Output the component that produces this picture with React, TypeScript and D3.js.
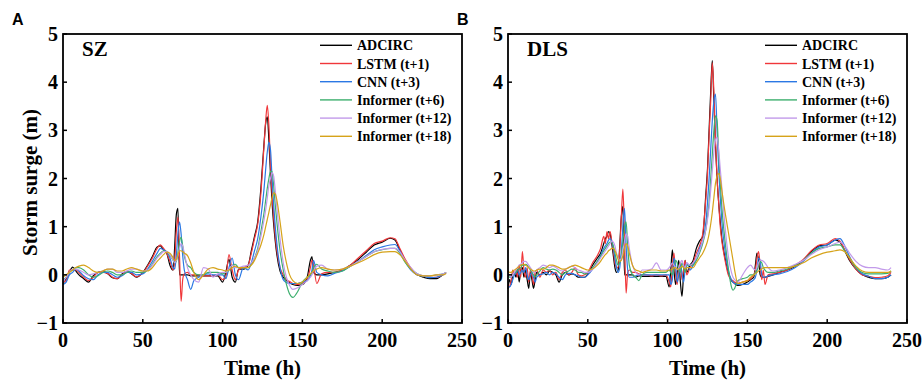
import React from 'react';
import * as d3 from 'd3';

// time axis (h) for each station
const tSZ = [
  0, 2, 4, 6, 8, 10, 13, 16, 19, 22, 25, 28, 31, 34, 37, 40,
  43, 46, 50, 53, 56, 59, 61, 63, 65, 67, 69, 70, 71, 72, 73, 74, 75, 76,
  78, 80, 82, 85, 88, 91, 94, 97, 100, 102, 104, 106, 108, 110, 113, 116, 118, 120, 122, 124, 126,
  127, 128, 129, 130, 131, 132, 133, 134, 136, 138, 140, 142, 144, 147, 150, 153, 155, 156, 157, 159, 162, 166, 170,
  175, 180, 185, 190, 195, 200, 205, 208, 211, 214, 218, 222, 226, 230, 234, 238, 240,
];

const szAdcirc = [
  -0.18, -0.08, 0.05, 0.16, 0.08, 0, -0.08, -0.15, -0.02, 0.05, 0.07, 0.02, -0.06, -0.08, 0.02, 0.07,
  0.02, -0.05, 0.05, 0.2, 0.38, 0.58, 0.6, 0.52, 0.45, 0.2, 0.1, 0.6, 1.25, 1.38, 0, 0, 0, 0,
  0, -0.02, -0.02, -0.02, -0.02, -0.02, -0.02, -0.02, -0.15, 0.05, 0.32, -0.05, -0.15, 0.12, 0.12, 0.2, 0.5, 0.8, 1.1, 1.8, 2.75,
  3.15, 3.28, 2.8, 2.1, 1.5, 1.05, 0.7, 0.42, 0.08, -0.05, -0.12, -0.17, -0.2, -0.22, -0.2, -0.05, 0.3, 0.38, 0.05, 0, 0, 0.02, 0.05,
  0.1, 0.2, 0.32, 0.47, 0.62, 0.68, 0.76, 0.72, 0.52, 0.32, 0.12, 0, -0.05, -0.08, -0.08, 0, 0.05,
];
const szLstm = [
  -0.15, -0.12, 0.1, 0.1, 0.1, 0.05, -0.05, -0.12, -0.05, 0.05, 0.05, 0.03, -0.05, -0.08, 0, 0.06,
  0.03, -0.04, 0.04, 0.18, 0.35, 0.55, 0.62, 0.55, 0.45, 0.28, 0.1, 0.3, 0.9, 1.2, 0.4, -0.55, -0.1, 0.02,
  0.05, 0, 0, 0, -0.02, -0.02, -0.02, 0, -0.1, -0.05, 0.42, 0.1, -0.1, 0.1, 0.15, 0.2, 0.45, 0.75, 1.05, 1.7, 2.7,
  3.2, 3.52, 3.1, 2.3, 1.7, 1.2, 0.8, 0.5, 0.15, 0, -0.1, -0.14, -0.18, -0.2, -0.18, -0.1, 0.15, 0.3, 0.2, -0.18, 0.02, 0.05, 0.05,
  0.1, 0.2, 0.35, 0.5, 0.65, 0.7, 0.77, 0.75, 0.55, 0.35, 0.14, 0, -0.02, -0.05, -0.05, 0, 0.05,
];
const szCnn = [
  -0.2, -0.15, 0, 0.05, 0.12, 0.08, -0.02, -0.08, -0.1, 0, 0.05, 0.05, 0, -0.05, -0.02, 0.05,
  0.05, 0, 0.02, 0.12, 0.28, 0.45, 0.55, 0.52, 0.48, 0.35, 0.15, 0.12, 0.4, 0.85, 1.1, 0.85, 0.4, 0.1,
  -0.1, -0.3, -0.12, -0.05, 0, 0.02, 0, 0, 0, -0.08, 0.15, 0.35, 0, -0.1, 0.15, 0.1, 0.25, 0.5, 0.75, 1.2, 1.8,
  2.2, 2.55, 2.75, 2.6, 2.0, 1.45, 1.0, 0.65, 0.15, -0.1, -0.16, -0.18, -0.18, -0.18, -0.15, -0.12, -0.02, 0.1, 0.3, 0.05, 0, -0.02, 0.03,
  0.08, 0.18, 0.28, 0.4, 0.52, 0.58, 0.62, 0.63, 0.5, 0.3, 0.1, 0, -0.03, -0.06, -0.05, 0, 0.04,
];
const szInf6 = [
  -0.1, -0.05, 0.05, 0.1, 0.15, 0.15, 0.1, 0, -0.05, -0.02, 0.05, 0.08, 0.05, 0, 0, 0.05,
  0.08, 0.05, 0.05, 0.1, 0.22, 0.38, 0.45, 0.5, 0.48, 0.4, 0.3, 0.25, 0.28, 0.45, 0.68, 0.78, 0.6, 0.4,
  0.2, 0.15, 0.05, 0, 0, 0.05, 0.05, 0.05, 0.02, 0.05, 0.1, 0.2, 0.22, 0.15, 0.15, 0.15, 0.22, 0.35, 0.55, 0.9, 1.3,
  1.55, 1.8, 2.0, 2.15, 2.15, 1.85, 1.45, 1.1, 0.5, 0.1, -0.2, -0.4, -0.47, -0.35, -0.15, -0.05, 0, 0.05, 0.15, 0.22, 0.12, 0.08, 0.05,
  0.08, 0.18, 0.28, 0.38, 0.48, 0.52, 0.55, 0.55, 0.45, 0.28, 0.12, 0.02, -0.02, -0.02, 0, 0.02, 0.05,
];
const szInf12 = [
  -0.15, -0.05, 0.05, 0.12, 0.12, 0.1, 0.05, 0, 0.02, 0.05, 0.08, 0.12, 0.12, 0.05, 0.05, 0.08,
  0.12, 0.12, 0.08, 0.1, 0.2, 0.35, 0.42, 0.48, 0.48, 0.42, 0.3, 0.25, 0.3, 0.4, 0.55, 0.65, 0.6, 0.45,
  0.15, 0, -0.1, -0.15, 0.15, 0.12, -0.05, 0.02, 0.05, 0.05, 0.12, 0.2, 0.15, 0.15, 0.18, 0.2, 0.25, 0.35, 0.5, 0.8, 1.15,
  1.35, 1.6, 1.85, 2.0, 2.12, 2.05, 1.75, 1.4, 0.75, 0.25, -0.05, -0.22, -0.3, -0.27, -0.2, -0.12, -0.05, 0, 0.08, 0.18, 0.2, 0.12, 0.1,
  0.12, 0.18, 0.28, 0.38, 0.48, 0.53, 0.55, 0.55, 0.48, 0.32, 0.15, 0.02, -0.02, -0.02, 0, 0.02, 0.05,
];
const szInf18 = [
  -0.05, 0, 0.05, 0.1, 0.15, 0.18, 0.2, 0.15, 0.08, 0.05, 0.08, 0.12, 0.12, 0.08, 0.08, 0.12,
  0.15, 0.12, 0.08, 0.08, 0.15, 0.28, 0.35, 0.42, 0.47, 0.45, 0.35, 0.3, 0.32, 0.42, 0.5, 0.5, 0.48, 0.45,
  0.4, 0.25, 0.05, -0.1, 0, 0.12, 0.15, 0.12, 0.1, 0.08, 0.1, 0.15, 0.18, 0.15, 0.15, 0.15, 0.2, 0.3, 0.45, 0.62, 0.85,
  1.0, 1.15, 1.3, 1.45, 1.6, 1.7, 1.68, 1.55, 1.1, 0.6, 0.25, 0, -0.12, -0.18, -0.15, -0.05, 0.02, 0.05, 0.08, 0.12, 0.15, 0.12, 0.1,
  0.12, 0.18, 0.25, 0.33, 0.42, 0.47, 0.48, 0.48, 0.42, 0.3, 0.12, 0, -0.02, -0.02, 0, 0, 0.03,
];

const tDLS = [
  0, 1, 2, 3, 4, 5, 6, 7, 8, 9, 10, 11, 12, 13, 14, 15, 16, 17, 18, 20,
  22, 24, 26, 28, 30, 32, 34, 36, 38, 40, 42, 44, 46, 48, 50, 53, 56, 58, 60, 61,
  62, 63, 64, 65, 66, 67, 68, 69, 70, 71, 72, 73, 74, 75, 76, 78, 80, 82, 84, 87,
  90, 93, 96, 99, 101, 102, 103, 104, 105, 106, 107, 108, 109, 110, 111, 112, 114, 116, 118, 120,
  122, 124, 125, 126, 127, 128, 129, 130, 131, 132, 133, 134, 136, 138, 140, 141, 142, 144, 147, 150,
  152, 154, 155, 156, 157, 158, 159, 160, 161, 163, 166, 170, 175, 180, 185, 190, 195, 200, 205, 208,
  211, 214, 218, 222, 226, 230, 234, 238, 240,
];

const dlsAdcirc = [
  -0.3, -0.1, -0.2, 0, 0.05, -0.05, 0.12, -0.15, 0.1, 0.15, -0.05, 0.1, -0.1, -0.28, 0.05, -0.1, -0.28, -0.1, 0.05, 0,
  0.05, 0, 0.08, 0.05, 0, -0.15, 0, 0.05, 0, 0.02, 0, -0.05, -0.05, -0.05, 0.02, 0.2, 0.35, 0.45, 0.65, 0.75,
  0.8, 0.9, 0.85, 0.65, 0.4, 0.15, 0.05, 0.1, 0.6, 1.2, 1.42, 0, 0, 0, 0, 0, -0.05, -0.02, -0.03, -0.03,
  -0.03, -0.03, -0.03, -0.03, -0.25, 0.1, 0.52, 0.1, -0.2, 0.05, 0.3, -0.15, -0.45, 0, 0.3, 0.05, 0.2, 0.3, 0.55, 0.7,
  0.8, 1.7, 2.2, 3.0, 3.8, 4.45, 3.6, 2.7, 2.0, 1.5, 1.1, 0.75, 0.35, 0.05, -0.12, -0.15, -0.18, -0.22, -0.2, -0.15,
  -0.1, -0.05, 0.2, 0.45, 0.3, 0, -0.05, -0.05, -0.05, -0.03, 0, 0.05, 0.1, 0.18, 0.3, 0.48, 0.6, 0.62, 0.72, 0.68,
  0.5, 0.3, 0.12, 0, -0.05, -0.08, -0.08, -0.05, 0,
];
const dlsLstm = [
  -0.2, -0.25, -0.1, 0.1, 0, 0.1, -0.05, 0.2, -0.05, 0.48, 0.1, -0.05, 0.15, -0.15, 0.1, 0, -0.2, 0.05, 0.1, -0.05,
  0.1, 0.05, 0.1, 0, 0.05, -0.1, 0.05, 0.1, 0, 0.05, 0.15, 0, -0.02, 0, 0.05, 0.25, 0.4, 0.55, 0.8, 0.65,
  0.9, 0.75, 0.9, 0.7, 0.5, 0.25, 0.15, 0.15, 0.5, 1.2, 1.78, 0.8, -0.38, 0.05, 0.1, 0.05, 0.05, 0.02, 0, 0,
  -0.02, 0, -0.02, 0, -0.15, -0.25, 0.2, 0.45, 0, -0.2, 0.15, 0.25, -0.1, 0.1, 0.3, 0, 0.15, 0.25, 0.45, 0.6,
  0.85, 1.6, 2.1, 2.9, 3.6, 4.4, 3.8, 2.8, 2.0, 1.5, 1.0, 0.7, 0.3, 0, -0.1, -0.12, -0.15, -0.18, -0.15, -0.12,
  -0.08, 0, 0.1, 0.35, 0.48, 0.2, -0.1, 0.1, -0.2, 0, 0.02, 0.05, 0.1, 0.2, 0.32, 0.5, 0.62, 0.65, 0.75, 0.7,
  0.52, 0.32, 0.12, 0, -0.03, -0.06, -0.05, -0.02, 0.05,
];
const dlsCnn = [
  -0.25, -0.25, -0.2, -0.1, 0, 0.05, 0.1, 0, 0.05, 0.1, 0.05, 0.15, 0, -0.1, 0, 0.05, -0.05, -0.15, -0.05, 0,
  0.02, 0.05, 0, 0.05, 0.02, -0.05, -0.1, 0, 0.03, 0.03, 0, -0.02, -0.05, -0.05, 0, 0.12, 0.28, 0.4, 0.55, 0.6,
  0.65, 0.72, 0.75, 0.7, 0.55, 0.35, 0.15, 0.05, 0.15, 0.5, 1.0, 1.38, 0.6, 0.1, -0.05, -0.05, -0.02, 0, 0, 0,
  0, 0, 0, 0, 0, -0.2, -0.1, 0.35, 0.2, -0.15, 0, 0.2, 0.05, -0.15, 0.1, 0.25, 0.1, 0.2, 0.35, 0.55,
  0.7, 1.1, 1.5, 2.0, 2.6, 3.2, 3.6, 3.75, 3.0, 2.2, 1.6, 1.1, 0.5, 0.1, -0.1, -0.15, -0.18, -0.2, -0.2, -0.2,
  -0.15, -0.1, -0.05, 0.1, 0.35, 0.3, 0, -0.05, -0.05, -0.02, 0, 0.02, 0.07, 0.15, 0.28, 0.45, 0.58, 0.62, 0.72, 0.75,
  0.6, 0.38, 0.15, 0.02, -0.03, -0.08, -0.08, -0.05, 0,
];
const dlsInf6 = [
  0, -0.05, -0.05, 0, 0.05, 0.05, 0.1, 0.12, 0.15, 0.2, 0.2, 0.22, 0.2, 0.15, 0.1, 0.05, 0, -0.05, 0, 0.08,
  0.15, 0.12, 0.1, 0.12, 0.1, 0.05, 0, 0.05, 0.08, 0.12, 0.1, 0.05, 0.05, 0.02, 0.05, 0.15, 0.28, 0.38, 0.5, 0.55,
  0.6, 0.65, 0.68, 0.68, 0.6, 0.45, 0.3, 0.2, 0.25, 0.4, 0.7, 1.0, 1.1, 0.6, 0.2, 0, -0.05, -0.12, 0, 0.05,
  0.05, 0.05, 0.05, 0.05, 0.1, 0.05, 0, 0.15, 0.3, 0.25, 0.1, 0.05, 0.25, 0.15, 0.05, 0.2, 0.2, 0.2, 0.3, 0.45,
  0.65, 0.95, 1.2, 1.5, 2.0, 2.5, 3.0, 3.3, 3.2, 2.5, 1.9, 1.4, 0.7, 0.15, -0.25, -0.32, -0.28, -0.12, -0.08, -0.05,
  0, 0, 0.05, 0.1, 0.2, 0.28, 0.25, 0.15, 0.1, 0.05, 0.05, 0.08, 0.12, 0.2, 0.3, 0.45, 0.55, 0.58, 0.62, 0.62,
  0.5, 0.35, 0.15, 0.05, 0.02, 0.02, 0.02, 0.03, 0.08,
];
const dlsInf12 = [
  0, 0, -0.05, 0, 0.05, 0.1, 0.15, 0.2, 0.22, 0.25, 0.28, 0.28, 0.25, 0.2, 0.15, 0.1, 0.05, 0.05, 0.1, 0.15,
  0.2, 0.18, 0.15, 0.18, 0.15, 0.1, 0.08, 0.12, 0.15, 0.18, 0.15, 0.1, 0.08, 0.05, 0.05, 0.12, 0.25, 0.35, 0.45, 0.5,
  0.55, 0.6, 0.65, 0.7, 0.68, 0.6, 0.45, 0.35, 0.3, 0.35, 0.5, 0.7, 0.85, 0.8, 0.55, 0.2, 0.05, 0, 0.1, 0.1,
  0.12, 0.25, 0.1, 0.1, 0.15, 0.2, 0.25, 0.2, 0.15, 0.1, 0.15, 0.25, 0.3, 0.2, 0.15, 0.25, 0.2, 0.25, 0.35, 0.5,
  0.7, 0.95, 1.15, 1.4, 1.75, 2.15, 2.55, 2.8, 2.86, 2.6, 2.2, 1.8, 1.0, 0.4, 0.05, -0.05, -0.1, -0.15, 0, 0.15,
  0.2, 0.12, 0.1, 0.15, 0.25, 0.3, 0.3, 0.28, 0.25, 0.15, 0.08, 0.1, 0.15, 0.22, 0.3, 0.42, 0.52, 0.58, 0.65, 0.68,
  0.6, 0.45, 0.28, 0.18, 0.15, 0.15, 0.12, 0.1, 0.15,
];
const dlsInf18 = [
  0.08, 0.05, 0.05, 0.08, 0.1, 0.12, 0.15, 0.18, 0.2, 0.22, 0.22, 0.2, 0.18, 0.15, 0.12, 0.1, 0.08, 0.08, 0.1, 0.12,
  0.12, 0.15, 0.2, 0.2, 0.18, 0.15, 0.12, 0.12, 0.15, 0.18, 0.2, 0.18, 0.15, 0.12, 0.1, 0.12, 0.2, 0.28, 0.38, 0.42,
  0.45, 0.5, 0.52, 0.55, 0.55, 0.5, 0.42, 0.32, 0.28, 0.3, 0.4, 0.55, 0.65, 0.6, 0.45, 0.2, 0.1, 0.08, 0.05, 0.08,
  0.1, 0.1, 0.08, 0.08, 0.1, 0.1, 0.12, 0.15, 0.15, 0.12, 0.12, 0.15, 0.18, 0.15, 0.12, 0.15, 0.15, 0.15, 0.25, 0.35,
  0.45, 0.6, 0.7, 0.85, 1.05, 1.3, 1.6, 1.9, 2.05, 2.1, 2.0, 1.75, 1.3, 0.9, 0.5, 0.3, 0.1, -0.18, -0.15, -0.12,
  -0.05, 0, 0.02, 0.05, 0.08, 0.1, 0.12, 0.15, 0.15, 0.15, 0.15, 0.15, 0.15, 0.18, 0.25, 0.35, 0.42, 0.47, 0.5, 0.52,
  0.48, 0.35, 0.18, 0.08, 0.05, 0.05, 0.05, 0.05, 0.08,
];

const seriesNames = ['ADCIRC', 'LSTM (t+1)', 'CNN (t+3)', 'Informer (t+6)', 'Informer (t+12)', 'Informer (t+18)'];
const seriesColors = ['#000000', '#f0373a', '#2b78e4', '#3daf6e', '#c29aea', '#d6a31a'];
const xTicks = [0, 50, 100, 150, 200, 250];
const yTicks = [-1, 0, 1, 2, 3, 4, 5];

const panels = [
  { letter: 'A', station: 'SZ', left: 63, t: tSZ, series: [szAdcirc, szLstm, szCnn, szInf6, szInf12, szInf18] },
  { letter: 'B', station: 'DLS', left: 508, t: tDLS, series: [dlsAdcirc, dlsLstm, dlsCnn, dlsInf6, dlsInf12, dlsInf18] },
];

const top = 34;
const bottom = 323;
const plotW = 399;
const serif = '"Liberation Serif", "Times New Roman", serif';

function Panel({ p }: { p: typeof panels[number] }) {
  const x = d3.scaleLinear().domain([0, 250]).range([p.left, p.left + plotW]);
  const y = d3.scaleLinear().domain([-1, 5]).range([bottom, top]);
  const line = d3.line<number>()
    .x((_, i) => x(p.t[i]))
    .y((d) => y(d))
    .curve(d3.curveMonotoneX);

  return (
    <g>
      <text x={p.left - 51} y={25} fontFamily='"Liberation Sans", Arial, sans-serif' fontWeight="bold" fontSize={16}>
        {p.letter}
      </text>
      {p.series.map((s, i) => (
        <path key={i} d={line(s) || ''} fill="none" stroke={seriesColors[i]} strokeWidth={1.2} strokeLinejoin="round" />
      ))}
      <rect x={p.left} y={top} width={plotW} height={bottom - top} fill="none" stroke="#000" strokeWidth={1.8} />
      {yTicks.map((v) => (
        <g key={'y' + v}>
          <line x1={p.left} x2={p.left + 4} y1={y(v)} y2={y(v)} stroke="#000" strokeWidth={1.5} />
          <text x={p.left - 5} y={y(v)} dy="0.35em" textAnchor="end" fontFamily={serif} fontWeight="bold" fontSize={20}>
            {v < 0 ? '\u2212' + Math.abs(v) : v}
          </text>
        </g>
      ))}
      {xTicks.map((v) => (
        <g key={'x' + v}>
          <line x1={x(v)} x2={x(v)} y1={bottom} y2={bottom - 4} stroke="#000" strokeWidth={1.5} />
          <text x={x(v)} y={347} textAnchor="middle" fontFamily={serif} fontWeight="bold" fontSize={20}>
            {v}
          </text>
        </g>
      ))}
      <text x={p.left + plotW / 2} y={375} textAnchor="middle" fontFamily={serif} fontWeight="bold" fontSize={21}>
        Time (h)
      </text>
      <text x={p.left + 19} y={56} fontFamily={serif} fontWeight="bold" fontSize={21}>
        {p.station}
      </text>
      {seriesNames.map((n, i) => {
        const ly = 45.3 + i * 18.2;
        return (
          <g key={n}>
            <line x1={p.left + 257} x2={p.left + 289} y1={ly} y2={ly} stroke={seriesColors[i]} strokeWidth={1.4} />
            <text x={p.left + 294} y={ly + 5} fontFamily={serif} fontWeight="bold" fontSize={14}>
              {n}
            </text>
          </g>
        );
      })}
    </g>
  );
}

export default function App() {
  return (
    <svg width={924} height={381} style={{ position: 'absolute', left: 0, top: 0, background: '#fff' }}>
      <rect width={924} height={381} fill="#fff" />
      {panels.map((p) => (
        <Panel key={p.letter} p={p} />
      ))}
      <text
        transform={`translate(37,${(top + bottom) / 2 + 4}) rotate(-90)`}
        textAnchor="middle"
        fontFamily={serif}
        fontWeight="bold"
        fontSize={21}
      >
        Storm surge (m)
      </text>
    </svg>
  );
}
